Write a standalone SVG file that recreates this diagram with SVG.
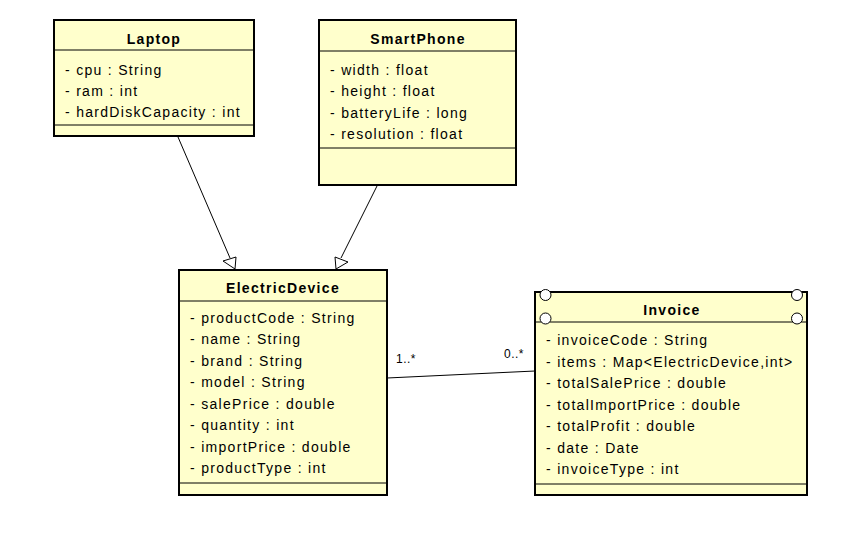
<svg xmlns="http://www.w3.org/2000/svg" width="857" height="551" viewBox="0 0 857 551">
<style>
.box{fill:#FFFFCC;stroke:#000;stroke-width:2}
.sep{stroke:#000;stroke-width:1}
.t{font-family:"Liberation Sans",Arial,sans-serif;font-size:14px;fill:#000;letter-spacing:1.3px}
.h{font-family:"Liberation Sans",Arial,sans-serif;font-size:14px;font-weight:bold;fill:#000;text-anchor:middle;letter-spacing:1.3px}
.m{font-family:"Liberation Sans",Arial,sans-serif;font-size:12px;fill:#000;letter-spacing:0.5px}
.ln{stroke:#000;stroke-width:1;fill:none}
.tri{fill:#fff;stroke:#000;stroke-width:1}
.c{fill:#fff;stroke:#000;stroke-width:1}
</style>
<rect width="857" height="551" fill="#fff"/>
<g id="connectors">
<line class="ln" x1="178" y1="137" x2="230" y2="258"/>
<polygon class="tri" points="235,269 223,261 236,257"/>
<line class="ln" x1="377" y1="186" x2="341" y2="258"/>
<polygon class="tri" points="336,269 335,257 348,262"/>
<line class="ln" x1="387" y1="378" x2="535" y2="371"/>
<text class="m" x="396" y="363">1..*</text>
<text class="m" x="504" y="358">0..*</text>
</g>
<g id="Laptop">
<rect class="box" x="54" y="20" width="200" height="116"/>
<line class="sep" x1="54" y1="50" x2="254" y2="50"/>
<line class="sep" x1="54" y1="125" x2="254" y2="125"/>
<text class="h" x="154" y="44">Laptop</text>
<text class="t" x="65" y="75">- cpu : String</text>
<text class="t" x="65" y="96">- ram : int</text>
<text class="t" x="65" y="117">- hardDiskCapacity : int</text>
</g>
<g id="SmartPhone">
<rect class="box" x="319" y="20" width="197" height="165"/>
<line class="sep" x1="319" y1="51" x2="516" y2="51"/>
<line class="sep" x1="319" y1="148" x2="516" y2="148"/>
<text class="h" x="418" y="44">SmartPhone</text>
<text class="t" x="330" y="75">- width : float</text>
<text class="t" x="330" y="96">- height : float</text>
<text class="t" x="330" y="118">- batteryLife : long</text>
<text class="t" x="330" y="139">- resolution : float</text>
</g>
<g id="ElectricDevice">
<rect class="box" x="179" y="270" width="208" height="225"/>
<line class="sep" x1="179" y1="301" x2="387" y2="301"/>
<line class="sep" x1="179" y1="483" x2="387" y2="483"/>
<text class="h" x="283" y="293">ElectricDevice</text>
<text class="t" x="190" y="323">- productCode : String</text>
<text class="t" x="190" y="344">- name : String</text>
<text class="t" x="190" y="366">- brand : String</text>
<text class="t" x="190" y="387">- model : String</text>
<text class="t" x="190" y="409">- salePrice : double</text>
<text class="t" x="190" y="430">- quantity : int</text>
<text class="t" x="190" y="452">- importPrice : double</text>
<text class="t" x="190" y="473">- productType : int</text>
</g>
<g id="Invoice">
<rect class="box" x="535" y="292" width="272" height="203"/>
<line class="sep" x1="535" y1="322" x2="807" y2="322"/>
<line class="sep" x1="535" y1="484" x2="807" y2="484"/>
<circle class="c" cx="545.5" cy="295" r="5.5"/>
<circle class="c" cx="545.5" cy="318.5" r="5.5"/>
<circle class="c" cx="797" cy="295" r="5.5"/>
<circle class="c" cx="797" cy="318.5" r="5.5"/>
<text class="h" x="672" y="315">Invoice</text>
<text class="t" x="546" y="345">- invoiceCode : String</text>
<text class="t" x="546" y="367">- items : Map&lt;ElectricDevice,int&gt;</text>
<text class="t" x="546" y="388">- totalSalePrice : double</text>
<text class="t" x="546" y="410">- totalImportPrice : double</text>
<text class="t" x="546" y="431">- totalProfit : double</text>
<text class="t" x="546" y="453">- date : Date</text>
<text class="t" x="546" y="474">- invoiceType : int</text>
</g>
</svg>
